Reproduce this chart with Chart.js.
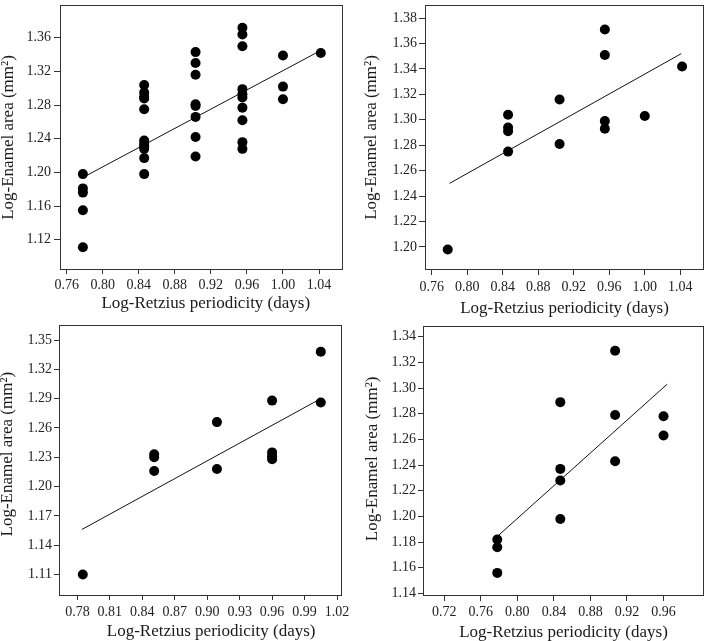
<!DOCTYPE html>
<html lang="en">
<head>
    <meta charset="UTF-8">
    <title>Log-Enamel area vs Log-Retzius periodicity</title>
    <script src="https://cdn.jsdelivr.net/npm/chart.js@4"></script>
    <style>
        body {
            margin: 0;
            background: #fff;
        }

        .panel {
            position: absolute;
        }
    </style>
</head>
<body>
    <div class="panel" style="left:0; top:0"><canvas id="chartA" width="354" height="320"></canvas></div>
    <div class="panel" style="left:354px; top:0"><canvas id="chartB" width="355" height="320"></canvas></div>
    <div class="panel" style="left:0; top:320px"><canvas id="chartC" width="354" height="321"></canvas></div>
    <div class="panel" style="left:354px; top:320px"><canvas id="chartD" width="355" height="321"></canvas></div>

    <script>
        // Panel A (top left)
        const aX = [0.778, 0.778, 0.778, 0.778, 0.778,
            0.846, 0.846, 0.846, 0.846, 0.846, 0.846, 0.846, 0.846, 0.846, 0.846, 0.846,
            0.903, 0.903, 0.903, 0.903, 0.903, 0.903, 0.903, 0.903,
            0.955, 0.955, 0.955, 0.955, 0.955, 0.955, 0.955, 0.955, 0.955, 0.955,
            1.000, 1.000, 1.000, 1.042];
        const aY = [1.198, 1.181, 1.176, 1.155, 1.111,
            1.304, 1.295, 1.290, 1.288, 1.275, 1.238, 1.234, 1.231, 1.228, 1.217, 1.198,
            1.343, 1.330, 1.316, 1.281, 1.279, 1.266, 1.242, 1.219,
            1.372, 1.364, 1.350, 1.299, 1.293, 1.289, 1.277, 1.262, 1.236, 1.228,
            1.339, 1.302, 1.287, 1.342];
        const aFitX = [0.778, 1.042];
        const aFitY = [1.194, 1.345];
        const aXTicks = [0.76, 0.80, 0.84, 0.88, 0.92, 0.96, 1.00, 1.04];
        const aYTicks = [1.12, 1.16, 1.20, 1.24, 1.28, 1.32, 1.36];

        // Panel B (top right)
        const bX = [0.778, 0.846, 0.846, 0.846, 0.846, 0.904, 0.904, 0.955, 0.955, 0.955, 0.955, 1.000, 1.042];
        const bY = [1.198, 1.304, 1.294, 1.291, 1.275, 1.316, 1.281, 1.371, 1.351, 1.299, 1.293, 1.303, 1.342];
        const bFitX = [0.780, 1.041];
        const bFitY = [1.250, 1.352];
        const bXTicks = [0.76, 0.80, 0.84, 0.88, 0.92, 0.96, 1.00, 1.04];
        const bYTicks = [1.20, 1.22, 1.24, 1.26, 1.28, 1.30, 1.32, 1.34, 1.36, 1.38];

        // Panel C (bottom left)
        const cX = [0.785, 0.851, 0.851, 0.851, 0.909, 0.909, 0.960, 0.960, 0.960, 0.960, 1.005, 1.005];
        const cY = [1.110, 1.233, 1.230, 1.216, 1.266, 1.218, 1.288, 1.235, 1.231, 1.228, 1.338, 1.286];
        const cFitX = [0.784, 1.005];
        const cFitY = [1.156, 1.290];
        const cXTicks = [0.78, 0.81, 0.84, 0.87, 0.90, 0.93, 0.96, 0.99, 1.02];
        const cYTicks = [1.11, 1.14, 1.17, 1.20, 1.23, 1.26, 1.29, 1.32, 1.35];

        // Panel D (bottom right)
        const dX = [0.778, 0.778, 0.778, 0.847, 0.847, 0.847, 0.847, 0.907, 0.907, 0.907, 0.960, 0.960];
        const dY = [1.182, 1.176, 1.156, 1.289, 1.237, 1.228, 1.198, 1.329, 1.279, 1.243, 1.278, 1.263];
        const dFitX = [0.779, 0.964];
        const dFitY = [1.185, 1.303];
        const dXTicks = [0.72, 0.76, 0.80, 0.84, 0.88, 0.92, 0.96];
        const dYTicks = [1.14, 1.16, 1.18, 1.20, 1.22, 1.24, 1.26, 1.28, 1.30, 1.32, 1.34];

        const xLabel = 'Log-Retzius periodicity (days)';
        const yLabel = 'Log-Enamel area (mm\u00B2)';

        const lineColor = '#333';
        const tickFont = { family: 'Liberation Serif', size: 14 };
        const titleFont = { family: 'Liberation Serif', size: 17, lineHeight: 1 };

        // frame around the plot area
        const boxPlugin = {
            id: 'box',
            afterDraw(chart) {
                const { ctx, chartArea: a } = chart;
                ctx.save();
                ctx.strokeStyle = lineColor;
                ctx.lineWidth = 1;
                ctx.strokeRect(a.left + 0.5, a.top + 0.5, a.right - a.left - 1, a.bottom - a.top - 1);
                ctx.restore();
            }
        };

        function makePanel(id, xs, ys, fitX, fitY, xTicks, yTicks, p) {
            const points = xs.map((x, i) => ({ x: x, y: ys[i] }));
            const fit = fitX.map((x, i) => ({ x: x, y: fitY[i] }));

            new Chart(document.getElementById(id), {
                type: 'scatter',
                data: {
                    datasets: [
                        {
                            data: fit,
                            showLine: true,
                            borderColor: '#111',
                            borderWidth: 1,
                            pointRadius: 0,
                            order: 2
                        },
                        {
                            data: points,
                            backgroundColor: '#000',
                            borderWidth: 0,
                            pointRadius: 5,
                            order: 1
                        }
                    ]
                },
                options: {
                    responsive: false,
                    animation: false,
                    events: [],
                    layout: { padding: p.pad },
                    plugins: {
                        legend: { display: false },
                        tooltip: { enabled: false }
                    },
                    scales: {
                        x: {
                            type: 'linear',
                            min: p.xMin,
                            max: p.xMax,
                            afterBuildTicks: s => { s.ticks = xTicks.map(v => ({ value: v })); },
                            afterFit: s => {
                                s.height = p.xH;
                                s.paddingLeft = 0;
                                s.paddingRight = 0;
                            },
                            ticks: {
                                autoSkip: false,
                                maxRotation: 0,
                                padding: p.xPad,
                                color: '#222',
                                font: tickFont,
                                callback: v => v.toFixed(2)
                            },
                            grid: { drawOnChartArea: false, tickLength: p.xTick, color: lineColor },
                            border: { display: false },
                            title: {
                                display: true,
                                text: p.xTitle,
                                color: '#1a1a1a',
                                font: titleFont,
                                padding: { top: 0, bottom: p.xTitlePad }
                            }
                        },
                        y: {
                            type: 'linear',
                            min: p.yMin,
                            max: p.yMax,
                            afterBuildTicks: s => { s.ticks = yTicks.map(v => ({ value: v })); },
                            afterFit: s => {
                                s.width = p.yW;
                                s.paddingTop = 0;
                                s.paddingBottom = 0;
                            },
                            ticks: {
                                autoSkip: false,
                                padding: p.yPad,
                                color: '#222',
                                font: tickFont,
                                callback: v => v.toFixed(2)
                            },
                            grid: { drawOnChartArea: false, tickLength: p.yTick, color: lineColor },
                            border: { display: false },
                            title: {
                                display: true,
                                text: p.yTitle,
                                color: '#1a1a1a',
                                font: titleFont,
                                padding: { top: p.yTitlePad, bottom: 0 }
                            }
                        }
                    }
                },
                plugins: [boxPlugin]
            });
        }

        makePanel('chartA', aX, aY, aFitX, aFitY, aXTicks, aYTicks, {
            pad: { top: 1, right: 11, left: 0, bottom: 0 },
            xMin: 0.7526, xMax: 1.0666, yMin: 1.084, yMax: 1.399,
            xH: 50, yW: 60, xTick: 4, xPad: 2.5, yTick: 6, yPad: 3,
            xTitle: '  ' + xLabel, xTitlePad: 8,
            yTitle: yLabel, yTitlePad: 0
        });

        makePanel('chartB', bX, bY, bFitX, bFitY, bXTicks, bYTicks, {
            pad: { top: 2, right: 1, left: 0, bottom: 0 },
            xMin: 0.7524, xMax: 1.0667, yMin: 1.1819, yMax: 1.3903,
            xH: 50, yW: 71, xTick: 5, xPad: 3.5, yTick: 6, yPad: 2,
            xTitle: xLabel, xTitlePad: 3,
            yTitle: yLabel, yTitlePad: 9.5
        });

        makePanel('chartC', cX, cY, cFitX, cFitY, cXTicks, cYTicks, {
            pad: { top: 5, right: 12, left: 0, bottom: 0 },
            xMin: 0.763, xMax: 1.0246, yMin: 1.088, yMax: 1.3654,
            xH: 45, yW: 59, xTick: 4, xPad: 3.5, yTick: 5, yPad: 2,
            xTitle: '     ' + xLabel, xTitlePad: 1,
            yTitle: '   ' + yLabel, yTitlePad: -1
        });

        makePanel('chartD', dX, dY, dFitX, dFitY, dXTicks, dYTicks, {
            pad: { top: 6, right: 3, left: 0, bottom: 0 },
            xMin: 0.6967, xMax: 1.0043, yMin: 1.138, yMax: 1.3483,
            xH: 45, yW: 69, xTick: 5, xPad: 3, yTick: 5, yPad: 2,
            xTitle: xLabel, xTitlePad: 0,
            yTitle: ' ' + yLabel, yTitlePad: 10
        });
    </script>
</body>
</html>
